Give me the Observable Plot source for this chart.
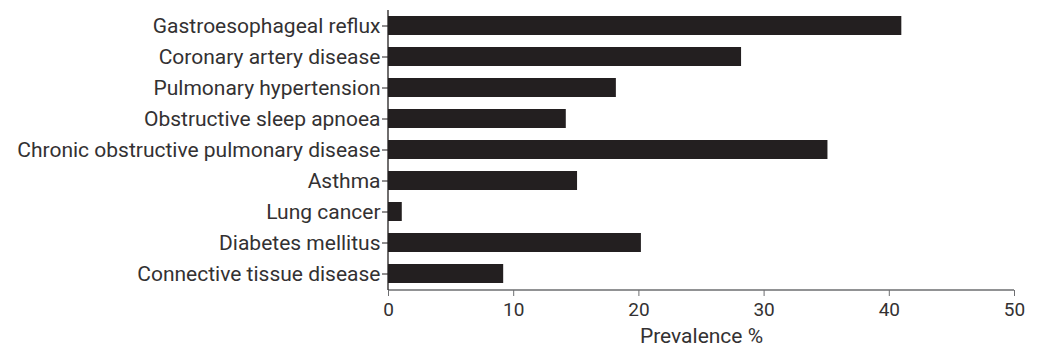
<!DOCTYPE html>
<html>
<head>
<meta charset="utf-8">
<script src="https://cdn.jsdelivr.net/npm/d3@7"></script>
<script src="https://cdn.jsdelivr.net/npm/@observablehq/plot@0.6"></script>
<style>
  html, body { margin: 0; padding: 0; background: #fff; }
  #chart svg { display: block; }
</style>
</head>
<body>
<div id="chart"></div>
<script>
const conditions = [
  "Gastroesophageal reflux",
  "Coronary artery disease",
  "Pulmonary hypertension",
  "Obstructive sleep apnoea",
  "Chronic obstructive pulmonary disease",
  "Asthma",
  "Lung cancer",
  "Diabetes mellitus",
  "Connective tissue disease"
];
const prevalence = [41.0, 28.2, 18.2, 14.2, 35.1, 15.1, 1.1, 20.2, 9.2];
const xTicks = [0, 10, 20, 30, 40, 50];
const xLabel = "Prevalence %";

const data = conditions.map((c, i) => ({condition: c, value: prevalence[i]}));
const ink = "#231f20";
const textInk = "#333132";
const grey = "#6d6e71";

const axisLines = (index, scales, values, dims) => {
  const g = d3.create("svg:g").attr("stroke-width", 1.3);
  g.append("line")
    .attr("stroke", grey)
    .attr("x1", dims.marginLeft).attr("x2", dims.width - dims.marginRight)
    .attr("y1", dims.height - dims.marginBottom).attr("y2", dims.height - dims.marginBottom);
  g.append("line")
    .attr("stroke", ink)
    .attr("x1", dims.marginLeft).attr("x2", dims.marginLeft)
    .attr("y1", dims.marginTop).attr("y2", dims.height - dims.marginBottom);
  return g.node();
};

const chart = Plot.plot({
  width: 1038,
  height: 347,
  marginLeft: 388,
  marginRight: 24,
  marginTop: 10,
  marginBottom: 57,
  style: {fontFamily: "Roboto, sans-serif", fontSize: "21px", color: textInk, background: "#fff"},
  x: {domain: [0, 50], ticks: xTicks, label: null},
  y: {domain: conditions, paddingInner: 0.38, paddingOuter: 0.175, label: null},
  marks: [
    Plot.barX(data, {x: "value", y: "condition", fill: ink}),
    axisLines,
    Plot.axisY({tickSize: 6, tickPadding: 2, fontSize: 21, stroke: ink, fill: textInk, label: null}),
    Plot.axisX({ticks: xTicks, tickSize: 6, tickPadding: 6, fontSize: 19, stroke: grey, fill: textInk, label: null}),
    Plot.text([xLabel], {frameAnchor: "bottom", dy: 52, fontSize: 21, fill: textInk, text: d => d})
  ]
});
document.getElementById("chart").append(chart);
</script>
</body>
</html>
